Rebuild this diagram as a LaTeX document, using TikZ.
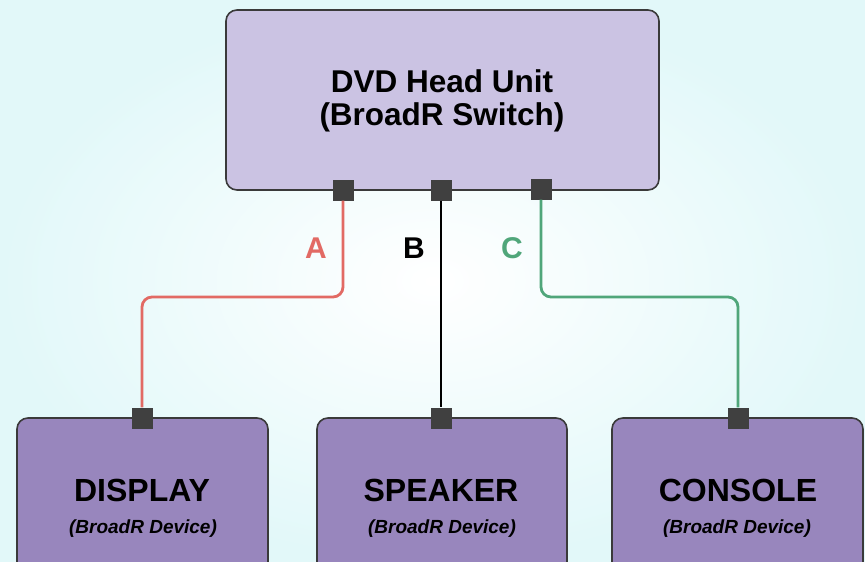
\documentclass[tikz,border=0pt]{standalone}
\usepackage{fontspec}
\setmainfont{Liberation Sans}
\usepackage{tikz}
\usetikzlibrary{positioning}
\definecolor{bgcyan}{RGB}{226,248,249}
\definecolor{switchfill}{RGB}{203,195,227}
\definecolor{devfill}{RGB}{152,134,189}
\definecolor{edgegray}{RGB}{58,58,58}
\definecolor{portgray}{RGB}{64,64,64}
\definecolor{wireA}{RGB}{226,106,100}
\definecolor{wireC}{RGB}{80,166,122}

\begin{document}
\begin{tikzpicture}[x=1pt, y=-1pt,
  unit/.style={rectangle, draw=edgegray, line width=1.6pt, rounded corners=11pt, inner sep=0pt},
  port/.style={rectangle, fill=portgray, minimum size=21pt, inner sep=0pt},
  wire/.style={line width=2.8pt, rounded corners=10pt},
  wlabel/.style={font=\fontsize{30}{30}\selectfont\bfseries},
  dname/.style={font=\fontsize{32}{32}\selectfont\bfseries},
  dsub/.style={font=\fontsize{19}{19}\selectfont\bfseries\itshape}]
\useasboundingbox (0,0) rectangle (865,562);
\shade[inner color=white, outer color=bgcyan] (0,0) rectangle (865,562);
% Switch on top
\node[unit, fill=switchfill, minimum width=433pt, minimum height=180pt] (head) at (442.5,100) {};
\node[align=center, font=\fontsize{31.5}{33}\selectfont\bfseries] (headT) at (442,101) {DVD Head Unit\\(BroadR Switch)};
% Devices at the bottom
\node[unit, fill=devfill, minimum width=251pt, minimum height=170pt] (disp) at (142.5,503) {};
\node[unit, fill=devfill, minimum width=250pt, minimum height=170pt] (spk) at (442,503) {};
\node[unit, fill=devfill, minimum width=251pt, minimum height=170pt] (cons) at (737.5,503) {};
\node[dname] (dispT) at (142,490) {DISPLAY};
\node[dname] (spkT) at (441,490) {SPEAKER};
\node[dname] (consT) at (738,490) {CONSOLE};
\node[dsub] (dispS) at (143,529) {(BroadR Device)};
\node[dsub] (spkS) at (442,529) {(BroadR Device)};
\node[dsub] (consS) at (737,529) {(BroadR Device)};
% Ports
\node[port] (pA) at (343,190) {};
\node[port] (pB) at (441,190) {};
\node[port] (pC) at (541,189) {};
\node[port] (qA) at (142,418) {};
\node[port] (qB) at (441,418) {};
\node[port] (qC) at (738,418) {};
\coordinate (mid) at (0,297);
% Wires
\draw[wire, wireA] (pA.south) -- (pA.south |- mid) -| (qA.north);
\draw[wire, black, line width=2pt] (pB.south) -- (qB.north);
\draw[wire, wireC] (pC.south) -- (pC.south |- mid) -| (qC.north);
\node[wlabel, text=wireA] (labA) at (316,248) {A};
\node[wlabel, text=black] (labB) at (414,248) {B};
\node[wlabel, text=wireC] (labC) at (512,248) {C};
\end{tikzpicture}
\end{document}
